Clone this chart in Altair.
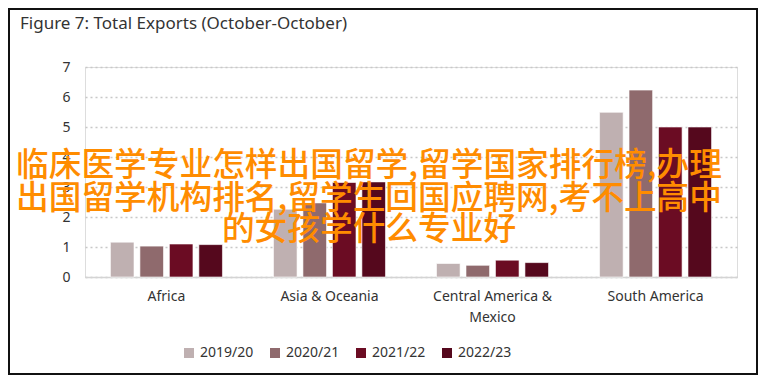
import altair as alt
import pandas as pd

regions = ["Africa", "Asia & Oceania", "Central America & Mexico", "South America"]
years = ["2019/20", "2020/21", "2021/22", "2022/23"]
v_2019_20 = [1.16, 2.26, 0.45, 5.49]
v_2020_21 = [1.03, 2.47, 0.39, 6.23]
v_2021_22 = [1.10, 3.15, 0.56, 5.00]
v_2022_23 = [1.08, 3.17, 0.48, 5.00]
colors = ["#bfb0b1", "#8f6a6d", "#6b0c23", "#55081d"]
title_text = "Figure 7: Total Exports (October-October)"
overlay_lines = [
    "临床医学专业怎样出国留学,留学国家排行榜,办理",
    "出国留学机构排名,留学生回国应聘网,考不上高中",
    "的女孩学什么专业好",
]

series = [v_2019_20, v_2020_21, v_2021_22, v_2022_23]
rows = []
for y, vals in zip(years, series):
    for r, v in zip(regions, vals):
        rows.append({"region": r, "year": y, "value": v})
df = pd.DataFrame(rows)

W, H = 652, 210
FONT = "Noto Sans"

bars = alt.Chart(df).mark_bar(stroke="white", strokeWidth=0.6).encode(
    x=alt.X("region:N", sort=regions, title=None,
            scale=alt.Scale(paddingInner=0.313, paddingOuter=0.156),
            axis=alt.Axis(labelAngle=0, ticks=False, domain=True, domainColor="#d4d4d4",
                          domainWidth=1.5, labelPadding=12, labelFontSize=14,
                          labelColor="#333333", labelFont=FONT, labelLineHeight=21,
                          labelExpr="datum.value == 'Central America & Mexico' ? ['Central America &', 'Mexico'] : datum.value")),
    xOffset=alt.XOffset("year:N", sort=years,
                        scale=alt.Scale(paddingInner=0.2, paddingOuter=0)),
    y=alt.Y("value:Q", title=None,
            scale=alt.Scale(domain=[0, 7], nice=False),
            axis=alt.Axis(values=[0, 1, 2, 3, 4, 5, 6, 7], ticks=False, domain=False,
                          grid=True, gridDash=[2, 3], gridColor="#c8c8c8", gridWidth=1.5,
                          labelPadding=15, labelFontSize=14, labelColor="#333333",
                          labelFont=FONT)),
    color=alt.Color("year:N", sort=years,
                    scale=alt.Scale(domain=years, range=colors),
                    legend=alt.Legend(title=None, orient="none", direction="horizontal",
                                      legendX=97, legendY=279, symbolType="square",
                                      symbolSize=100, symbolStrokeWidth=0,
                                      labelFontSize=14, labelColor="#333333",
                                      labelFont=FONT, labelOffset=4, columnPadding=14)),
)

layers = [bars]

title = alt.Chart(pd.DataFrame({"t": [title_text]})).mark_text(
    font=FONT, fontSize=17, color="#333333", align="left", baseline="alphabetic"
).encode(text="t:N", x=alt.value(-65), y=alt.value(-38))
layers.append(title)

line_ys = [99, 132, 163]
for txt, yy in zip(overlay_lines, line_ys):
    layers.append(
        alt.Chart(pd.DataFrame({"t": [txt]})).mark_text(
            font="Noto Sans CJK SC", fontSize=32.7, fontWeight=500, color="#ff8c00",
            align="center", baseline="middle"
        ).encode(text="t:N", x=alt.value(284), y=alt.value(yy))
    )

border = alt.Chart(pd.DataFrame({"a": [0]})).mark_rect(
    fill=None, stroke="#111111", strokeWidth=2, clip=False
).encode(x=alt.value(-76), x2=alt.value(672), y=alt.value(-58), y2=alt.value(307))
layers.append(border)

chart = alt.layer(*layers).properties(
    width=W, height=H,
    autosize=alt.AutoSizeParams(type="none"),
    padding={"left": 77, "top": 59, "right": 21, "bottom": 98},
).configure_view(stroke=None).configure(background="white")

chart.save("out.html", embed_options={"renderer": "svg", "actions": False})
